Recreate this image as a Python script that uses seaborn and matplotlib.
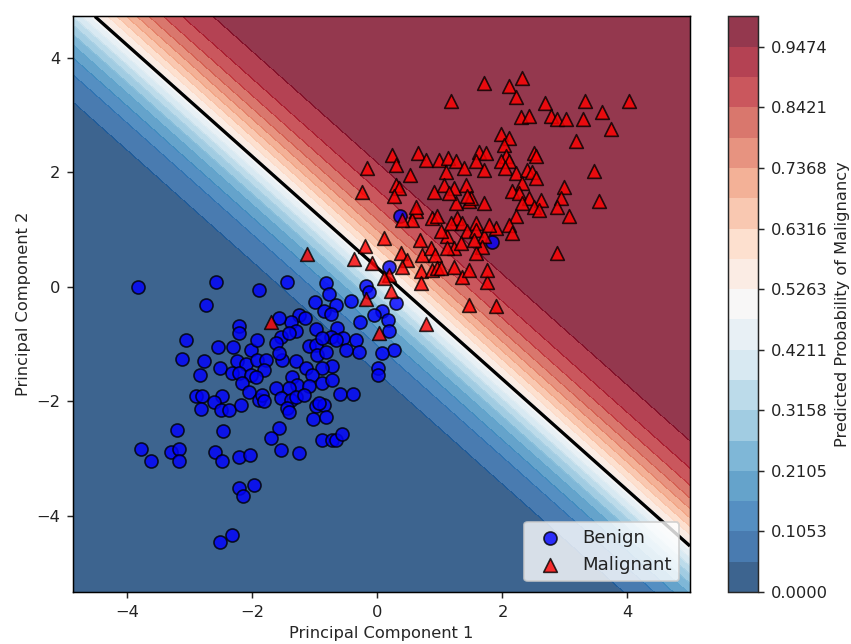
import matplotlib
matplotlib.use("Agg")
import matplotlib.pyplot as plt
import seaborn as sns
import numpy as np
import pandas as pd

# Benign points (PC1, PC2)
benign_x = [-3.83, -2.59, -2.75, -2.21, -2.21, -3.06, -2.55, -2.31, -2.03, -1.93, -3.12, -2.78, -2.52,
            -2.84, -2.25, -2.11, -2.32, -2.22, -2.03, -2.17, -1.93, -1.90,
            -2.91, -2.80, -2.48, -2.61, -2.82, -2.51, -2.38, -2.19, -2.06, -1.90, -3.20, -2.47, -3.79,
            -3.62, -3.30, -3.18, -3.18, -2.60, -2.48, -2.21, -2.04, -2.21, -2.15, -1.98, -2.32, -2.52,
            -1.44, -0.83, -0.77, -1.00, -0.67, -0.42, -0.18, -0.14, 0.18, 0.30, 0.08, -0.06, 0.17, 0.18,
            -0.28, -0.86, -0.75, -1.26, -1.16, -1.39, -1.58, -0.99, -0.64, -0.55, -0.75, -0.67, -0.35,
            -0.30, 0.26, 0.08, 0.01, 0.01, -1.55, -1.63, -1.31, -1.42, -1.10, -0.99, -0.88, -0.96, -0.83,
            -0.72, -0.88, -0.51, -1.31, -1.53, -1.58, -1.79, -1.82, -1.95, -1.15, -1.04, -1.37, -1.28,
            -1.42, -1.63, -1.10, -0.88, -0.72, -0.60, -0.39,
            -1.84, -1.82, -1.55, -1.39, -1.31, -1.18, -1.44, -1.42, -0.99, -0.86, -0.94, -1.03, -0.82,
            -1.57, -1.70, -1.55, -1.25, -0.88, -0.72, -0.67, -0.56,
            0.36, 1.84]
benign_y = [-0.01, 0.09, -0.32, -0.68, -0.80, -0.93, -1.06, -1.05, -1.10, -0.93, -1.26, -1.29, -1.42,
            -1.54, -1.29, -1.35, -1.51, -1.51, -1.54, -1.68, -1.28, -0.05,
            -1.90, -1.90, -1.90, -2.02, -2.13, -2.15, -2.15, -2.06, -1.83, -1.97, -2.50, -2.52, -2.84,
            -3.05, -2.88, -2.84, -3.05, -2.88, -3.05, -2.98, -2.93, -3.52, -3.65, -3.46, -4.33, -4.45,
            0.08, 0.06, -0.13, -0.27, -0.31, -0.24, 0.01, -0.09, 0.35, -0.28, -0.42, -0.49, -0.58, -0.78,
            -0.62, -0.43, -0.47, -0.49, -0.55, -0.61, -0.55, -0.74, -0.72, -0.89, -0.87, -0.93, -0.93,
            -1.13, -1.10, -1.15, -1.42, -1.54, -0.87, -0.98, -0.78, -0.81, -1.04, -1.01, -0.90, -1.19, -1.13,
            -1.39, -1.42, -1.10, -1.30, -1.28, -1.16, -1.28, -1.45, -1.57, -1.42, -1.54, -1.57, -1.71,
            -1.77, -1.77, -1.74, -1.68, -1.62, -1.87, -1.88,
            -1.89, -2.00, -1.94, -1.97, -1.92, -1.89, -2.12, -2.18, -2.09, -2.06, -2.03, -2.31, -2.28,
            -2.47, -2.64, -2.85, -2.91, -2.68, -2.67, -2.68, -2.57,
            1.23, 0.79]

# Malignant points (PC1, PC2)
malignant_x = [-1.12, -1.70, -0.38, -0.20, 0.11, -0.08, 0.37, 0.48, 0.40, 0.18, 0.10, 0.22, -0.19, 0.02,
               0.68, 0.61, 0.55, 0.40, 0.88, 0.95, 0.71, 0.85, 0.92, 0.69, 0.69, 0.88, 0.96, 1.01, 1.12,
               1.22, 1.12, 1.22, 1.36, 1.46, 1.75, 1.46, 0.78, 1.25, 1.46, 1.70, 1.27, 1.17, 1.36, 1.57,
               1.43, 1.57, 1.70, 1.67, 1.57, 1.33, 1.54, 1.01, 1.75,
               1.71, 1.17, 0.23, 0.29, -0.16, 0.65, 0.78, 0.98, 1.13, 1.25, 1.39, 1.62, 1.73, 1.57, 1.70,
               1.09, 0.52, 0.29, 0.34, 0.27, -0.25, 0.90, 1.06, 1.22, 1.14, 1.41, 1.49, 1.43, 0.61,
               2.32, 2.11, 2.21, 2.68, 3.32, 3.60, 4.03, 3.74, 3.18, 2.29, 2.43, 2.77, 2.88, 3.01, 3.29,
               1.97, 2.11, 2.02, 2.50, 2.53, 2.06, 1.97, 2.10, 2.04, 2.21, 2.40, 2.48, 2.53, 3.46, 2.32,
               2.16, 2.26, 2.98, 2.93, 2.42, 2.61, 3.54, 2.88, 2.32, 2.50,
               2.58, 3.06, 2.21, 2.10, 1.89, 2.16, 1.78, 2.88, 1.90]
malignant_y = [0.58, -0.61, 0.48, 0.72, 0.86, 0.41, 0.59, 0.47, 0.35, 0.21, 0.15, -0.08, -0.22, -0.80,
               0.82, 1.32, 1.17, 1.17, 1.20, 1.23, 0.56, 0.68, 0.56, 0.27, 0.06, 0.30, 0.33, 0.33, 0.88,
               0.68, 0.68, 0.35, 0.17, 0.30, 0.09, -0.31, -0.65, 1.46, 1.49, 1.46, 1.20, 1.11, 1.11, 1.11,
               0.97, 1.00, 0.88, 0.70, 0.59, 0.76, 0.82, 0.97, 0.30,
               3.56, 3.25, 2.31, 2.13, 2.07, 2.34, 2.22, 2.22, 2.25, 2.19, 2.07, 2.36, 2.34, 2.19, 2.04,
               2.01, 1.96, 1.78, 1.73, 1.58, 1.65, 1.66, 1.78, 1.72, 1.64, 1.78, 1.55, 1.58, 1.39,
               3.65, 3.50, 3.32, 3.21, 3.24, 3.06, 3.24, 2.76, 2.55, 2.96, 2.98, 2.98, 2.93, 2.93, 2.93,
               2.66, 2.60, 2.48, 2.34, 2.28, 2.28, 2.19, 2.19, 2.07, 1.99, 2.04, 2.01, 1.90, 2.03, 1.81,
               1.68, 1.64, 1.75, 1.55, 1.55, 1.52, 1.49, 1.40, 1.46, 1.40,
               1.34, 1.23, 1.23, 1.08, 1.03, 0.94, 1.08, 0.59, -0.33]

# logistic model fitted on the two components (read from the boundary position/width)
coef_pc1, coef_pc2, intercept = 1.53, 1.575, -0.52
x_range = (-4.87, 5.0)
y_range = (-5.33, 4.72)

df = pd.DataFrame({
    "PC1": benign_x + malignant_x,
    "PC2": benign_y + malignant_y,
    "label": ["Benign"] * len(benign_x) + ["Malignant"] * len(malignant_x),
})

sns.set_style("white")
plt.rcParams["font.size"] = 8.8
plt.rcParams["text.color"] = "#222222"

fig = plt.figure(figsize=(851 / 133, 644 / 133), dpi=133)
ax = fig.add_axes([0.0858, 0.0807, 0.725, 0.8937])
cax = fig.add_axes([0.8555, 0.0807, 0.0352, 0.8937])

xx, yy = np.meshgrid(np.linspace(x_range[0], x_range[1], 400),
                     np.linspace(y_range[0], y_range[1], 400))
zz = 1 / (1 + np.exp(-(coef_pc1 * xx + coef_pc2 * yy + intercept)))

levels = np.linspace(0, 1, 20)
cf = ax.contourf(xx, yy, zz, levels=levels, cmap="RdBu_r", alpha=0.8)
ax.contour(xx, yy, zz, levels=[0.5], colors="k", linewidths=1.8)

sns.scatterplot(data=df[df.label == "Benign"], x="PC1", y="PC2", ax=ax, color="blue",
                marker="o", s=50, edgecolor="k", linewidth=0.9, alpha=0.8, label="Benign", zorder=3)
sns.scatterplot(data=df[df.label == "Malignant"], x="PC1", y="PC2", ax=ax, color="red",
                marker="^", s=55, edgecolor="k", linewidth=0.9, alpha=0.8, label="Malignant", zorder=3)

ax.set_xlim(x_range)
ax.set_ylim(y_range)
ax.set_xticks([-4, -2, 0, 2, 4])
ax.set_yticks([-4, -2, 0, 2, 4])
ax.grid(True, linestyle="--", color="white", alpha=0.3, linewidth=0.8)
ax.tick_params(axis="both", which="both", bottom=True, left=True, length=3.5, width=0.8,
               labelsize=8.8, labelcolor="#222222")
for s in ax.spines.values():
    s.set_color("black")
    s.set_linewidth(0.8)
ax.set_xlabel("Principal Component 1", labelpad=3)
ax.set_ylabel("Principal Component 2", labelpad=3)
ax.legend(loc="lower right", fontsize=9.8, borderaxespad=0.6)

cbar = fig.colorbar(cf, cax=cax)
cbar.set_ticks(levels[::2])
cbar.set_ticklabels([f"{v:.4f}" for v in levels[::2]])
cbar.set_label("Predicted Probability of Malignancy", labelpad=4)
cbar.ax.tick_params(length=3.5, width=0.8, labelsize=8.8, labelcolor="#222222")

fig.savefig("out.png", dpi=133)
